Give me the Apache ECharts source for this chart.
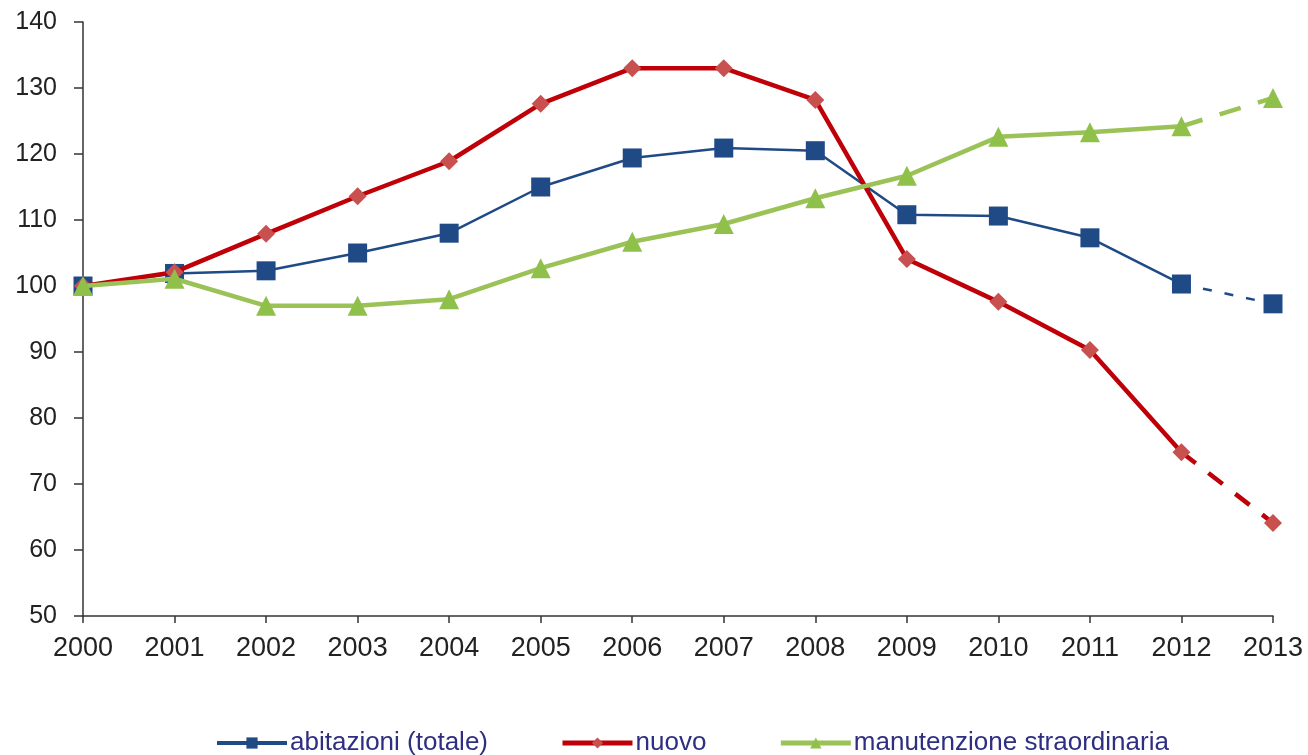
<!DOCTYPE html>
<html>
<head>
<meta charset="utf-8">
<script src="https://cdn.jsdelivr.net/npm/echarts@6/dist/echarts.min.js"></script>
<style>
  html, body { margin: 0; padding: 0; background: #fff; }
  #chart { width: 1308px; height: 755px; }
</style>
</head>
<body>
<div id="chart"></div>
<script>
// Years on the x axis
const years = ['2000','2001','2002','2003','2004','2005','2006','2007','2008','2009','2010','2011','2012','2013'];

// Index values (2000 = 100)
const abitazioni = [100, 101.9, 102.3, 105.0, 108.0, 115.0, 119.4, 120.9, 120.5, 110.8, 110.6, 107.3, 100.3, 97.3];
const nuovo = [100, 102.1, 107.9, 113.6, 118.9, 127.6, 133.0, 133.0, 128.2, 104.1, 97.6, 90.3, 74.8, 64.1];
const manutenzione = [100, 101.1, 97.0, 97.0, 98.0, 102.7, 106.7, 109.4, 113.3, 116.7, 122.6, 123.3, 124.2, 128.5];

const seriesNames = ['abitazioni (totale)', 'nuovo', 'manutenzione straordinaria'];

// The last year is an estimate: drawn dashed from the previous point
const forecastFrom = years.length - 2;

function actualPart(values) {
  return values.map((v, i) => (i <= forecastFrom ? v : null));
}
function forecastPart(values) {
  return values.map((v, i) => (i >= forecastFrom ? v : null));
}

const diamond = 'path://M0,-1L1,0L0,1L-1,0Z';

const styles = [
  { line: '#1f4a86', marker: '#1f4a86', width: 2.5, symbol: 'rect', size: 19, dash: [9, 13], legendWidth: 4 },
  { line: '#c00008', marker: '#c8504f', width: 4.5, symbol: diamond, size: 18, dash: [18, 16], legendWidth: 5 },
  { line: '#9bc257', marker: '#8fc04a', width: 4.5, symbol: 'triangle', size: 20, dash: [22, 18], legendWidth: 5 }
];

const allValues = [abitazioni, nuovo, manutenzione];
const series = [];
allValues.forEach((vals, k) => {
  const st = styles[k];
  series.push({
    name: seriesNames[k],
    type: 'line',
    data: actualPart(vals),
    symbol: st.symbol,
    symbolSize: st.size,
    showAllSymbol: true,
    itemStyle: { color: st.marker },
    lineStyle: { color: st.line, width: st.width },
    z: 3 + k,
    animation: false
  });
  series.push({
    name: seriesNames[k] + ' ',
    type: 'line',
    data: forecastPart(vals).map((v, i) => (i === forecastFrom ? { value: v, symbol: 'none' } : v)),
    symbol: st.symbol,
    symbolSize: st.size,
    itemStyle: { color: st.marker },
    lineStyle: { color: st.line, width: st.width, type: st.dash },
    z: 3 + k,
    animation: false
  });
});

const axisFont = '"Liberation Sans", Arial, sans-serif';

const chart = echarts.init(document.getElementById('chart'), null, { renderer: 'canvas' });
chart.setOption({
  backgroundColor: '#ffffff',
  animation: false,
  grid: { left: 83, right: 35, top: 22, bottom: 139, containLabel: false },
  legend: {
    data: seriesNames.map((n, k) => ({
      name: n,
      itemStyle: { color: styles[k].marker },
      lineStyle: { color: styles[k].line, width: styles[k].legendWidth }
    })),
    top: 725,
    left: 210,
    itemGap: 72,
    itemWidth: 70,
    itemHeight: 14,
    textStyle: {
      color: '#2e2e82',
      fontSize: 26,
      padding: [0, 0, 0, -2],
      fontFamily: axisFont
    }
  },
  xAxis: {
    type: 'category',
    data: years,
    boundaryGap: false,
    axisLine: { lineStyle: { color: '#333', width: 1.5 } },
    axisTick: { show: true, alignWithLabel: true, length: 7, lineStyle: { color: '#333', width: 1.5 } },
    axisLabel: { color: '#222', fontSize: 27, margin: 19, fontFamily: axisFont },
    splitLine: { show: false }
  },
  yAxis: {
    type: 'value',
    min: 50,
    max: 140,
    interval: 10,
    axisLine: { show: true, lineStyle: { color: '#333', width: 1.5 } },
    axisTick: { show: true, length: 9, lineStyle: { color: '#333', width: 1.5 } },
    axisLabel: { color: '#222', fontSize: 25, margin: 26, fontFamily: axisFont },
    splitLine: { show: false }
  },
  series: series
});
</script>
</body>
</html>
